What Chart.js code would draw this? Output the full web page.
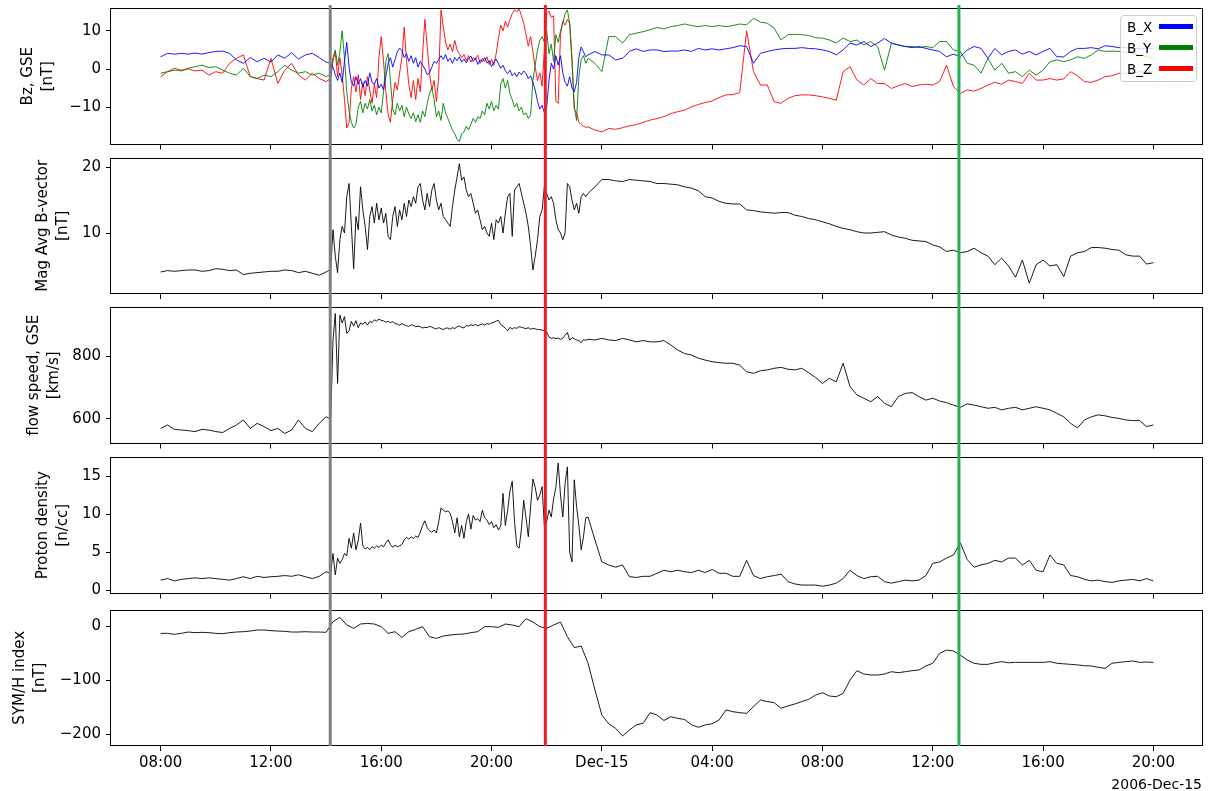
<!DOCTYPE html>
<html>
<head>
<meta charset="utf-8">
<title>Solar wind and SYM/H, 2006 Dec 14-15</title>
<script src="https://cdn.jsdelivr.net/npm/chart.js@4.4.1/dist/chart.umd.min.js"></script>
<style>
  html, body { margin: 0; padding: 0; background: #ffffff; }
  #figure { position: relative; width: 1217px; height: 791px; overflow: hidden;
            font-family: "DejaVu Sans", sans-serif; color: #000; }
  #figure canvas { position: absolute; left: 0; }
  #legend { position: absolute; left: 1120px; top: 15px; width: 77px; height: 67px;
            box-sizing: border-box; border: 1px solid #cccccc; border-radius: 4px;
            background: rgba(255, 255, 255, 0.8); font-size: 13.5px; }
  #legend .row { position: absolute; left: 0; width: 75px; height: 20px; line-height: 20px; }
  #legend .txt { position: absolute; left: 6px; top: 0; }
  #legend .sw { position: absolute; left: 38px; top: 7.5px; width: 34px; height: 5px; }
  #dateOffset { position: absolute; right: 15px; top: 776px; font-size: 14px; line-height: 16px; white-space: nowrap; }
</style>
</head>
<body>
<div id="figure">
  <canvas id="panelB"></canvas>
  <canvas id="panelMag"></canvas>
  <canvas id="panelFlow"></canvas>
  <canvas id="panelDensity"></canvas>
  <canvas id="panelSymH"></canvas>
  <div id="legend"></div>
  <div id="dateOffset"></div>
</div>
<script>
// Base series: one sample every 15 minutes, hours after 2006-12-14 00:00 (08:00 Dec 14 .. 20:00 Dec 15).
// null marks the disturbed interval, which is covered by the 5-minute detail series below.
const START_HOUR = 8;
const STEP_HOURS = 0.25;
// Detail series: one sample every 5 minutes from 14:10 to 23:25 Dec 14
const DETAIL_START = 14 + 10 / 60;
const DETAIL_STEP = 5 / 60;
const _ = null;

// IMF components, GSE [nT]
const bx = [3.2,4.1,3.9,4.1,3.9,4.2,3.9,4.3,4.6,4.7,4.1,2.4,1.5,3.0,1.9,2.8,1.8,3.7,2.8,4.3,2.6,3.7,4.1,3.0,1.8,
  _,_,_,_,_,_,_,_,_,_,_,_,_,_,_,_,_,_,_,_,_,_,_,_,_,_,_,_,_,_,_,_,_,_,_,_,_,
  3.7,4.6,3.7,3.7,2.4,2.8,4.6,5.3,4.6,5.0,5.0,4.6,4.7,4.7,5.0,4.6,5.4,5.0,5.3,5.0,5.3,5.6,6.1,5.9,1.5,
  4.1,4.6,5.0,5.3,5.4,5.4,5.6,5.4,5.3,5.0,4.6,3.7,5.0,6.8,6.3,7.2,5.9,6.8,8.0,6.8,6.3,5.9,5.6,5.9,5.4,5.0,4.6,3.2,3.9,
  3.2,5.0,5.9,5.4,2.8,5.4,3.7,4.6,5.0,3.9,4.6,3.7,4.6,5.4,3.2,3.2,4.6,5.4,5.4,5.6,5.3,6.1,5.9,5.6,5.6,5.4,5.3,5.4,5.3];
const bxDetail = [1.5,0.5,-1.5,-3.0,-1.0,-3.5,2.0,7.0,0.5,-3.5,-4.5,-2.0,-4.0,-2.5,-4.8,-3.0,-4.5,-1.0,-3.5,-4.0,
  -2.5,-5.0,-4.0,-5.5,-2.0,1.5,3.0,0.5,2.5,4.5,5.5,4.8,3.0,4.0,2.0,3.5,1.5,3.0,0.5,2.0,
  1.0,0.0,-1.5,-1.0,0.5,2.0,1.5,2.5,3.5,2.5,3.8,2.0,2.8,1.5,3.0,2.2,3.2,1.8,2.6,1.6,
  2.8,3.4,2.0,2.9,1.2,2.4,1.9,3.0,1.6,2.2,0.6,1.8,2.6,1.4,0.2,1.0,-0.5,-1.2,-0.3,-1.8,
  -1.0,-2.0,-0.8,-1.5,-0.5,-1.2,-2.5,-1.8,-3.5,-5.5,-8.5,-10.5,-9.5,-11.5,-10.0,-3.0,1.5,0.0,3.5,1.0,
  3.5,-1.0,-3.5,-4.5,-2.0,-5.0,-6.0,-3.5,3.0,5.8,4.5,3.2];
const by = [-1.1,-0.7,-0.3,-0.5,0.2,0.6,1.0,0.4,0.6,-0.3,-1.1,-1.6,0.2,-2.0,-2.5,-1.6,-2.0,-0.7,1.0,-0.3,-1.1,-0.7,-1.6,-1.1,-2.0,
  _,_,_,_,_,_,_,_,_,_,_,_,_,_,_,_,_,_,_,_,_,_,_,_,_,_,_,_,_,_,_,_,_,_,_,_,_,
  2.8,1.5,-0.7,8.5,8.5,6.8,9.0,9.4,9.8,10.3,10.9,10.5,11.1,11.4,11.8,11.4,11.1,11.4,11.1,11.4,11.1,11.4,11.8,11.6,13.3,
  12.3,12.0,10.7,7.6,9.0,9.1,9.0,8.8,8.2,8.1,7.6,6.8,8.1,7.2,7.6,6.3,7.2,5.9,-0.3,6.8,6.3,5.9,5.9,5.6,5.9,5.6,7.2,7.2,5.0,
  4.6,1.5,1.0,-1.1,2.8,-0.3,1.5,-1.1,-0.7,-2.0,-0.3,-1.6,-0.3,1.9,2.4,1.9,2.4,3.2,2.8,3.7,5.0,4.6,4.7,4.6,4.4,4.1,3.7,3.2,3.0];
const byDetail = [-1.5,3.0,5.0,1.0,4.5,10.0,3.0,-6.0,-11.0,-14.0,-15.5,-14.5,-10.0,-8.5,-11.5,-9.0,-10.5,-8.0,-11.0,-9.5,
  -12.0,-10.0,-11.5,-6.0,2.0,4.0,-3.0,-10.5,-12.0,-9.0,-11.0,-9.5,-12.5,-10.0,-11.8,-13.0,-11.5,-13.8,-12.0,-14.0,
  -11.0,-12.5,-9.0,-6.5,-5.0,-8.0,-12.5,-11.0,-13.5,-9.0,-11.5,-13.0,-14.5,-16.0,-17.0,-18.5,-19.0,-17.0,-16.5,-15.0,
  -16.0,-14.5,-13.0,-14.0,-12.5,-13.0,-11.0,-12.0,-9.0,-10.5,-8.5,-11.0,-9.5,-10.5,-4.0,-2.5,-5.0,-3.0,-6.5,-8.0,
  -10.0,-9.0,-11.0,-10.0,-12.0,-11.5,-13.0,-12.0,-3.0,1.0,5.0,7.5,8.5,7.0,10.0,4.0,6.5,2.0,9.0,7.0,
  10.0,12.0,14.5,15.5,12.0,3.0,-10.0,-13.5,-2.0,2.5,3.5,1.5];
const bz = [-2.0,-0.7,0.2,-0.3,0.0,-0.5,-0.3,-1.6,-0.7,-1.1,1.5,2.8,3.7,-2.0,-2.5,-2.9,2.8,-3.8,-0.3,1.5,-1.6,-2.9,-1.1,-2.5,-3.3,
  _,_,_,_,_,_,_,_,_,_,_,_,_,_,_,_,_,_,_,_,_,_,_,_,_,_,_,_,_,_,_,_,_,_,_,_,_,
  -15.2,-16.0,-16.5,-15.6,-15.8,-15.4,-14.9,-14.6,-14.0,-13.4,-13.0,-12.5,-11.7,-11.2,-10.8,-9.9,-9.3,-8.8,-8.4,-7.5,-6.8,-6.7,-6.2,10.0,-0.7,
  -4.2,-4.2,-8.6,-9.0,-7.7,-7.0,-6.8,-6.8,-7.0,-7.3,-7.7,-8.2,-0.7,0.6,-2.9,-4.2,-2.5,-3.8,-3.8,-5.1,-4.4,-3.8,-4.6,-4.2,-4.0,-4.2,-3.3,1.0,-4.6,
  -6.4,-5.5,-5.8,-5.1,-4.2,-3.5,-4.0,-2.9,-3.3,-3.8,-1.1,-2.9,-2.9,-2.5,-2.9,-2.6,-0.7,-1.8,-3.3,-3.5,-2.9,-2.0,-1.8,-1.1,-1.1,-1.1,-0.7,-0.9,-0.7];
const bzDetail = [-2.5,2.0,4.5,-2.0,3.0,-1.5,-8.0,-15.5,-14.0,-5.0,-2.0,-6.0,-1.5,-8.0,-3.5,-7.0,-2.0,-5.5,-9.0,-4.0,
  -7.5,3.0,8.5,2.0,-6.0,-12.0,-14.0,-8.0,-3.5,-5.5,-1.0,3.0,11.0,2.0,-4.0,-7.5,-3.0,-8.0,-2.5,-6.0,
  4.0,13.0,6.0,-1.0,-5.5,-3.0,-8.5,-2.0,15.5,11.0,7.0,5.0,6.5,4.5,7.5,5.0,4.0,3.0,3.8,2.2,
  3.5,1.8,3.0,2.5,3.6,1.5,2.8,2.0,3.2,1.2,2.5,1.0,4.0,8.0,11.5,10.0,12.5,11.0,13.0,14.5,
  15.5,15.0,15.8,14.0,12.0,9.0,6.0,8.5,4.5,0.5,-3.0,-1.0,-4.5,5.0,14.5,15.2,13.5,14.0,-8.5,-9.0,
  9.0,12.5,11.5,13.0,12.0,2.0,-10.5,-11.5,-14.0,-14.5,-15.0,-15.3];

// Magnitude of the averaged field vector [nT]
const bMagnitude = [4.1,4.3,4.2,4.3,4.4,4.4,4.2,4.3,4.6,4.5,4.3,4.4,3.7,3.9,4.0,4.1,4.2,4.2,4.4,4.3,4.0,4.2,3.9,3.6,4.1,
  _,_,_,_,_,_,_,_,_,_,_,_,_,_,_,_,_,_,_,_,_,_,_,_,_,_,_,_,_,_,_,_,_,_,_,_,_,
  16.0,17.0,18.1,18.1,17.9,17.8,18.1,18.0,17.9,17.8,
  17.5,17.5,17.4,17.3,17.0,16.8,16.4,15.5,15.3,14.8,14.5,14.4,14.4,13.5,13.4,13.2,13.1,13.0,13.1,13.1,
  12.7,12.5,12.2,12.0,11.7,11.4,11.0,10.7,10.5,10.2,10.0,10.0,10.1,10.2,9.7,9.4,9.2,8.9,8.8,8.7,
  8.2,7.9,7.2,7.4,7.0,7.2,7.7,7.0,6.5,5.2,6.2,5.0,3.3,5.9,2.4,5.2,5.9,5.0,5.2,3.4,
  6.5,7.0,7.2,7.8,7.8,7.7,7.5,7.4,6.7,6.5,6.5,5.3,5.5];
const bMagnitudeDetail = [4.5,10.5,6.5,4.0,9.0,11.0,10.0,15.5,17.5,11.0,4.6,12.5,10.5,17.0,13.5,11.0,7.5,12.5,14.0,11.5,
  14.5,12.0,13.8,11.5,13.0,9.5,9.0,12.5,14.0,11.0,13.5,12.0,14.5,12.5,15.0,14.0,15.5,14.5,17.0,17.5,
  15.0,13.5,16.0,14.0,16.5,17.5,15.0,13.5,14.5,12.5,12.0,11.5,11.0,14.0,16.5,18.5,20.5,18.0,18.5,16.5,
  15.5,16.0,14.5,13.0,13.5,12.0,10.5,11.0,10.0,9.5,11.5,9.0,12.0,11.5,12.5,10.0,13.0,15.5,16.0,9.5,
  16.5,17.0,17.5,16.0,14.5,13.0,11.0,8.0,4.4,6.5,9.0,12.5,13.5,17.0,16.0,15.0,15.5,14.5,12.0,10.5,
  10.0,9.0,10.0,17.5,17.0,15.0,13.5,14.5,13.0,15.5,16.0,15.5];

// Bulk flow speed [km/s]
const flowSpeed = [570,581,567,565,563,560,567,565,560,557,570,581,597,570,586,576,563,570,554,565,597,570,560,586,607,
  _,_,_,_,_,_,_,_,_,_,_,_,_,_,_,_,_,_,_,_,_,_,_,_,_,_,_,_,_,_,_,_,_,_,_,_,_,
  853,851,856,851,849,856,851,845,849,845,
  845,849,835,819,808,803,793,787,782,779,777,777,771,750,745,753,756,761,764,758,
  756,761,747,732,713,729,718,777,703,676,666,655,671,650,639,671,681,684,671,660,
  666,657,652,644,637,648,644,639,634,637,629,634,637,629,634,639,634,629,618,607,
  586,572,597,607,613,610,605,602,597,595,595,576,581];
const flowSpeedDetail = [600,850,935,713,930,905,925,872,880,910,895,912,890,905,901,908,898,910,906,915,
  911,917,913,912,907,910,906,909,903,901,898,903,899,896,894,899,897,893,895,893,
  889,891,890,894,892,888,886,890,887,884,888,889,885,890,887,893,895,891,889,897,
  895,899,897,900,896,899,902,898,903,901,905,907,911,913,900,895,888,880,891,886,
  890,888,893,891,889,887,890,885,888,886,884,884,882,880,876,860,856,858,855,857,
  853,856,866,875,850,858,855,851,849,842,852,850];

// Proton number density [n/cc]
const protonDensity = [1.3,1.5,1.2,1.4,1.5,1.6,1.5,1.6,1.5,1.4,1.3,1.5,1.75,1.5,1.8,1.65,1.75,1.8,1.9,1.8,2.0,1.75,1.5,1.8,2.4,
  _,_,_,_,_,_,_,_,_,_,_,_,_,_,_,_,_,_,_,_,_,_,_,_,_,_,_,_,_,_,_,_,_,_,_,_,_,
  9.6,6.6,3.7,3.3,3.0,3.3,1.75,1.65,1.8,1.8,
  2.2,2.6,2.4,2.6,2.4,2.3,2.6,2.3,2.7,2.2,2.2,1.8,1.8,3.9,1.9,1.5,1.75,1.9,2.1,1.1,
  0.8,0.65,0.65,0.65,0.5,0.65,0.9,1.5,2.6,1.9,1.5,1.75,1.8,1.1,0.9,1.1,1.3,1.2,1.3,1.9,
  3.5,3.7,4.2,4.6,6.2,4.0,3.0,3.3,3.5,3.9,3.7,4.2,4.2,3.3,3.9,2.6,2.4,4.6,3.5,3.3,
  1.9,1.75,1.4,1.2,1.3,1.1,1.0,1.2,1.3,1.4,1.2,1.5,1.2];
const protonDensityDetail = [2.2,4.8,2.0,4.2,3.5,4.0,4.8,4.5,6.8,5.5,7.5,5.3,6.5,8.8,5.8,5.4,5.6,5.3,5.7,5.5,
  5.8,5.6,5.9,5.7,6.2,6.6,6.0,5.6,5.9,5.7,5.8,6.0,6.6,6.9,6.7,7.0,6.8,7.1,6.9,7.6,
  8.5,9.1,8.2,7.8,7.6,7.9,7.5,9.0,10.8,10.5,10.3,10.4,10.1,9.0,7.5,9.5,7.0,8.5,6.8,9.0,
  10.0,8.0,9.8,9.2,9.4,9.0,10.5,9.5,9.2,8.6,9.0,8.2,8.6,7.9,8.4,12.7,8.5,10.5,13.0,14.3,
  9.0,5.8,5.5,8.0,11.8,9.5,7.0,11.0,14.6,13.5,11.8,12.5,13.6,8.3,9.0,10.5,9.6,12.0,13.5,16.7,
  12.5,9.6,14.0,16.2,5.0,3.7,14.5,11.0,8.5,5.3,7.0,9.5];

// SYM/H index [nT]
const symH = [-13.6,-13.6,-15.4,-13.6,-11.1,-12.3,-11.7,-12.3,-13.6,-14.2,-12.3,-11.1,-10.5,-9.3,-7.4,-7.4,-8.6,-9.3,-9.9,-11.1,-11.1,-10.5,-11.1,-11.1,-11.7,
  8,16,1.9,-4.3,3.7,4.9,3.7,-1.2,-13.6,-10.5,-21,-10.5,-6.2,-1.2,-19.8,-22.8,-18.5,-16.7,-15.4,-14.8,-12.3,-10.5,-1.2,-1.2,-2.5,3.7,1.9,-1.2,13.6,7.4,
  -1.2,-4.3,1.9,7.4,-19.8,-40,-37,-69,-118.5,-164.8,-181,-189.5,-203.7,-192.6,-183,-180,-160.5,
  -164.8,-175,-168,-171,-173,-183,-187.6,-183,-181,-174,-155.5,-158.6,-160.5,-161.7,-149.4,-137,-140,-142,-152.5,-148,
  -144.4,-140,-135.8,-127.8,-123.5,-129.6,-130.9,-124.7,-100,-82.7,-88.9,-90.7,-90.7,-88.9,-84.6,-86.4,-84.6,-82.7,-81.5,-74,
  -69,-50.6,-44.4,-46.3,-53.7,-63,-69,-71,-71,-68,-66,-68,-67.3,-67.3,-67.3,-67.3,-67.3,-66,-69,-70,
  -71,-72,-73.5,-74,-76.5,-78.4,-69,-67.3,-66,-64.8,-67.3,-66.7,-67.3];

// Time axis ticks (hours after Dec 14 00:00) and their labels
const timeTicks = [8, 12, 16, 20, 24, 28, 32, 36, 40, 44];
const timeTickLabels = ['08:00', '12:00', '16:00', '20:00', 'Dec-15', '04:00', '08:00', '12:00', '16:00', '20:00'];
const dateOffsetLabel = '2006-Dec-15';

// Event markers: shock arrival, ICME leading edge, ICME trailing edge (hours after Dec 14 00:00)
const eventHours = [14.15, 21.95, 36.95];
const eventColors = ['#808080', '#ee1c25', '#22b14c'];

// ---- figure geometry ----
const FIG_W = 1217;
const PLOT_LEFT = 111;
const PLOT_RIGHT = 1203;
const X_MIN = 6.2, X_MAX = 45.8;
const FONT_PX = 15;
const TITLE_LINE = 20;

Chart.defaults.font.family = '"DejaVu Sans", sans-serif';
Chart.defaults.font.size = FONT_PX;
Chart.defaults.color = '#000';

const panelLayout = [
  { canvas: 'panelB',       top: 0,   height: 151, plotTop: 8,     plotBottom: 144.5, titleCenter: 28.5 },
  { canvas: 'panelMag',     top: 151, height: 149, plotTop: 157.5, plotBottom: 294,   titleCenter: 43 },
  { canvas: 'panelFlow',    top: 300, height: 150, plotTop: 307,   plotBottom: 443.5, titleCenter: 34 },
  { canvas: 'panelDensity', top: 450, height: 151, plotTop: 457,   plotBottom: 593.5, titleCenter: 43 },
  { canvas: 'panelSymH',    top: 601, height: 190, plotTop: 609.5, plotBottom: 746,   titleCenter: 20 }
];

const panelContent = [
  { title: ['Bz, GSE', '[nT]'], yMin: -19.8, yMax: 16, yTicks: [-10, 0, 10],
    series: [ { label: 'B_X', values: bx, detail: bxDetail, color: '#0000ff' },
              { label: 'B_Y', values: by, detail: byDetail, color: '#008000' },
              { label: 'B_Z', values: bz, detail: bzDetail, color: '#ff0000' } ] },
  { title: ['Mag Avg B-vector', '[nT]'], yMin: 0.76, yMax: 21.44, yTicks: [10, 20],
    series: [ { label: '|B|', values: bMagnitude, detail: bMagnitudeDetail, color: '#000000' } ] },
  { title: ['flow speed, GSE', '[km/s]'], yMin: 522.2, yMax: 955.6, yTicks: [600, 800],
    series: [ { label: 'V', values: flowSpeed, detail: flowSpeedDetail, color: '#000000' } ] },
  { title: ['Proton density', '[n/cc]'], yMin: -0.46, yMax: 17.5, yTicks: [0, 5, 10, 15],
    series: [ { label: 'Np', values: protonDensity, detail: protonDensityDetail, color: '#000000' } ] },
  { title: ['SYM/H index', '[nT]'], yMin: -222.2, yMax: 30.6, yTicks: [-200, -100, 0],
    series: [ { label: 'SYM/H', values: symH, detail: null, color: '#000000' } ] }
];

const signed = v => (v < 0 ? '\u2212' + Math.abs(v) : String(v));

// Merge the 15-minute base samples with the 5-minute detail samples, in time order
function seriesPoints(base, detail) {
  const pts = [];
  base.forEach((v, i) => { if (v !== null) pts.push({ x: START_HOUR + i * STEP_HOURS, y: v }); });
  if (detail) detail.forEach((v, j) => pts.push({ x: DETAIL_START + j * DETAIL_STEP, y: v }));
  return pts.sort((a, b) => a.x - b.x);
}

// Axes box plus the event marker lines, drawn over the data
const panelFrame = {
  id: 'panelFrame',
  afterDatasetsDraw(chart, args, opts) {
    const { ctx, chartArea: a } = chart;
    ctx.save();
    ctx.strokeStyle = '#000';
    ctx.lineWidth = 1;
    const l = Math.round(a.left) - 0.5, r = Math.round(a.right) - 0.5;
    const t = Math.round(a.top) + 0.5, b = Math.round(a.bottom) - 0.5;
    ctx.strokeRect(l, t, r - l, b - t);
    const xs = chart.scales.x;
    eventHours.forEach((h, k) => {
      const px = xs.getPixelForValue(h);
      ctx.beginPath();
      ctx.strokeStyle = eventColors[k];
      ctx.lineWidth = 3;
      ctx.moveTo(px, opts.lineTop);
      ctx.lineTo(px, opts.stopAtPlot ? a.bottom : chart.height);
      ctx.stroke();
    });
    ctx.restore();
  }
};

function buildPanel(layout, content, index, last) {
  const canvas = document.getElementById(layout.canvas);
  canvas.width = FIG_W;
  canvas.height = layout.height;
  canvas.style.top = layout.top + 'px';
  canvas.style.width = FIG_W + 'px';
  canvas.style.height = layout.height + 'px';
  const padLeft = layout.titleCenter - TITLE_LINE / 2;
  const xAxisHeight = layout.top + layout.height - layout.plotBottom;
  const tickGrid = { drawOnChartArea: false, drawTicks: true, tickLength: 5,
                     color: '#000', tickColor: '#000', lineWidth: 1, tickWidth: 1 };
  return new Chart(canvas, {
    type: 'line',
    data: {
      datasets: content.series.map(s => ({
        label: s.label,
        data: seriesPoints(s.values, s.detail),
        borderColor: s.color,
        backgroundColor: s.color,
        borderWidth: 0.9,
        pointRadius: 0,
        tension: 0,
        fill: false,
        clip: 0
      }))
    },
    options: {
      responsive: false,
      animation: false,
      devicePixelRatio: 1,
      events: [],
      layout: { padding: { left: padLeft, right: FIG_W - PLOT_RIGHT, top: layout.plotTop - layout.top, bottom: 0 } },
      plugins: {
        legend: { display: false },
        tooltip: { enabled: false },
        panelFrame: { lineTop: index === 0 ? 5 : 0, stopAtPlot: last }
      },
      scales: {
        x: {
          type: 'linear', position: 'bottom', min: X_MIN, max: X_MAX,
          afterBuildTicks: s => { s.ticks = timeTicks.map(v => ({ value: v })); },
          afterFit: s => { s.height = xAxisHeight; s.paddingLeft = 0; s.paddingRight = 0; },
          grid: tickGrid,
          border: { display: false },
          ticks: { display: last, autoSkip: false, maxRotation: 0, minRotation: 0, padding: 3,
                   color: '#000', font: { size: FONT_PX }, callback: (v, i) => timeTickLabels[i] }
        },
        y: {
          type: 'linear', position: 'left', min: content.yMin, max: content.yMax,
          afterBuildTicks: s => { s.ticks = content.yTicks.map(v => ({ value: v })); },
          afterFit: s => { s.width = PLOT_LEFT - padLeft; s.paddingTop = 0; s.paddingBottom = 0; },
          grid: tickGrid,
          border: { display: false },
          ticks: { padding: 5, color: '#000', font: { size: FONT_PX }, callback: v => signed(v) },
          title: { display: true, text: content.title, color: '#000', padding: 0,
                   font: { size: FONT_PX, lineHeight: TITLE_LINE / FONT_PX } }
        }
      }
    },
    plugins: [panelFrame]
  });
}

const charts = panelLayout.map((layout, i) =>
  buildPanel(layout, panelContent[i], i, i === panelLayout.length - 1));

// Legend for the field-component panel
const legend = document.getElementById('legend');
charts[0].data.datasets.forEach((ds, k) => {
  const row = document.createElement('div');
  row.className = 'row';
  row.style.top = (0.5 + k * 21) + 'px';
  const txt = document.createElement('span');
  txt.className = 'txt';
  txt.textContent = ds.label;
  const sw = document.createElement('span');
  sw.className = 'sw';
  sw.style.background = ds.borderColor;
  row.appendChild(txt);
  row.appendChild(sw);
  legend.appendChild(row);
});

document.getElementById('dateOffset').textContent = dateOffsetLabel;
</script>
</body>
</html>
